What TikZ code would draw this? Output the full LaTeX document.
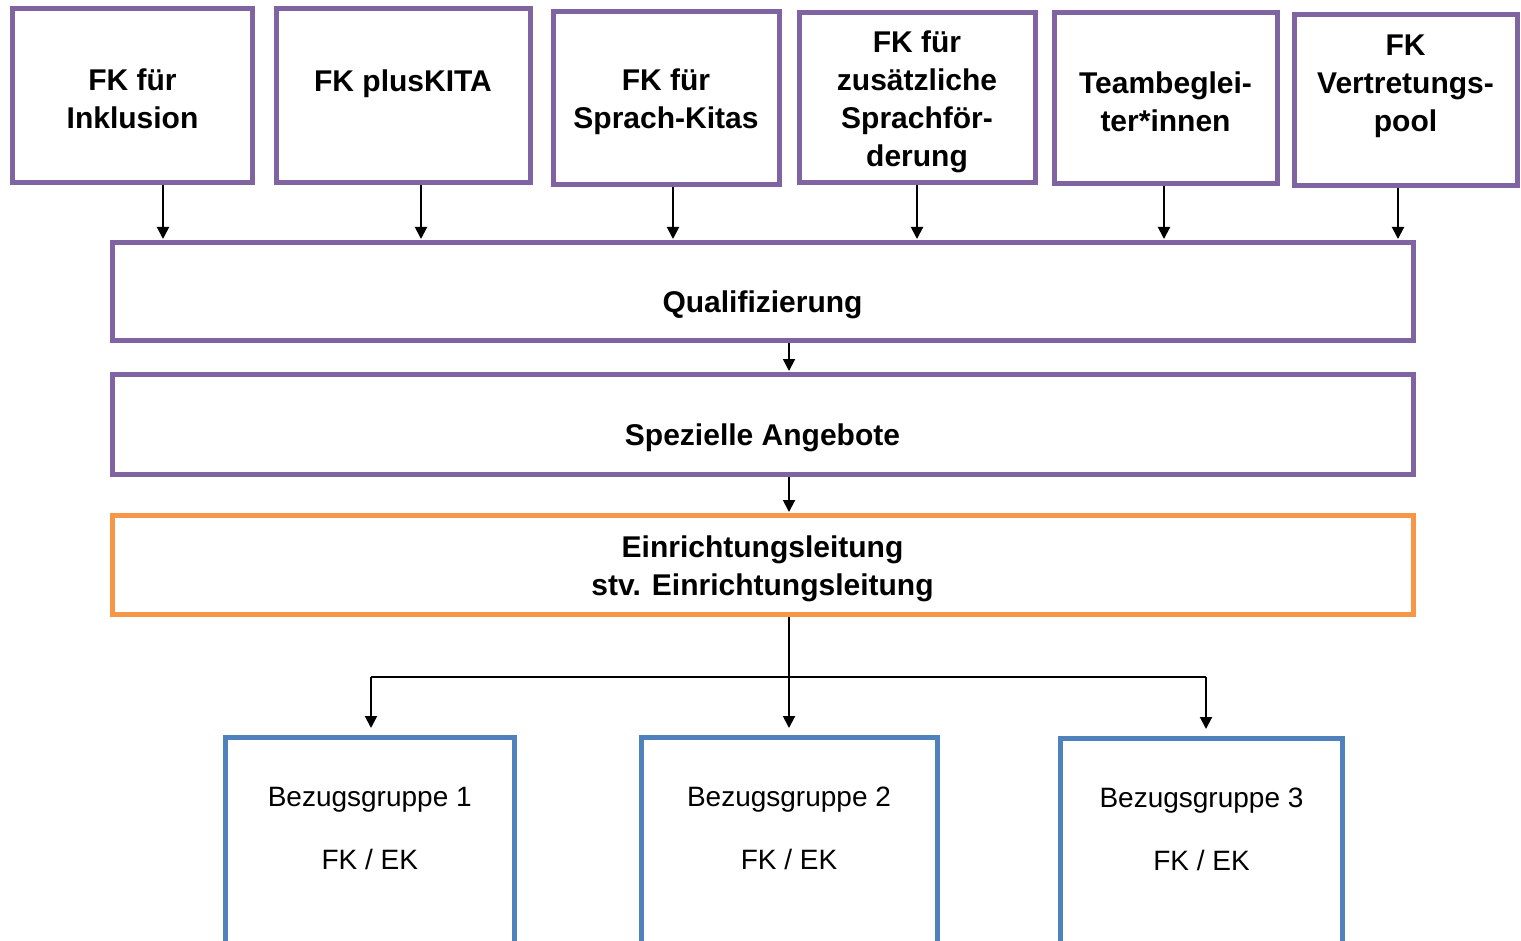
\documentclass[tikz,border=0pt]{standalone}
\usepackage{fontspec}
\setmainfont{Liberation Sans}
\usetikzlibrary{arrows.meta,fit}
\definecolor{kitapurple}{HTML}{8064A2}
\definecolor{kitaorange}{HTML}{F79646}
\definecolor{kitablue}{HTML}{4F81BD}
\tikzset{
  box/.style={draw=#1, line width=2.5pt, inner sep=0pt},
  lbl/.style={align=center, inner sep=0pt, font=\fontsize{15}{19}\selectfont\bfseries},
  grptxt/.style={align=center, inner sep=0pt, font=\fontsize{14}{31.5}\selectfont},
  arr/.style={-{Triangle[width=6pt,length=6pt]}, line width=1pt, shorten >=0.5pt},
  con/.style={line width=1pt}
}

\begin{document}
\begin{tikzpicture}[x=0.5pt,y=-0.5pt]
\newcommand{\ulft}{112}
\newcommand{\urgt}{1413}
\newcommand{\tdown}{-6.75pt}
\newcommand{\tmulti}{-1.75pt}

\clip (0,0) rectangle (1521,941);

% Fachkraefte oben
\node[box=kitapurple, fit={(12.5,8.5) (252.5,182.5)}] (inkl) {};
\node[box=kitapurple, fit={(276,8.5) (530,183)}] (plus) {};
\node[box=kitapurple, fit={(553,12) (779,185)}] (sprach) {};
\node[box=kitapurple, fit={(799,13) (1035,183)}] (zusatz) {};
\node[box=kitapurple, fit={(1054,13) (1277,184)}] (team) {};
\node[box=kitapurple, fit={(1294,15) (1517,185.5)}] (vertr) {};
\node[lbl] (inkltxt) at ([yshift=\tmulti]inkl.center) {FK für\\Inklusion};
\node[lbl] (plustxt) at ([yshift=\tmulti]plus.center) {FK plusKITA\\\mbox{}};
\node[lbl] (sprachtxt) at ([yshift=\tmulti]sprach.center) {FK für\\Sprach-Kitas};
\node[lbl] (zusatztxt) at ([yshift=\tmulti]zusatz.center) {FK für\\zusätzliche\\Sprachför-\\derung};
\node[lbl] (teamtxt) at ([yshift=\tmulti]team.center) {Teambeglei-\\ter*innen};
\node[lbl] (vertrtxt) at ([yshift=\tmulti+1pt]vertr.center) {FK\\Vertretungs-\\pool\\\mbox{}};

% Baender
\node[box=kitapurple, fit={(\ulft,242.5) (\urgt,340.5)}] (qual) {};
\node[box=kitapurple, fit={(\ulft,374.5) (\urgt,474)}] (spez) {};
\node[box=kitaorange, fit={(\ulft,515.5) (\urgt,614.5)}] (leitung) {};
\node[lbl] (qualtxt) at ([yshift=\tdown]qual.center) {Qualifizierung};
\node[lbl] (speztxt) at ([yshift=\tdown]spez.center) {Spezielle Angebote};
\node[lbl] (leitungtxt) at ([yshift=\tmulti]leitung.center) {Einrichtungsleitung\\stv. Einrichtungsleitung};

% Bezugsgruppen
\node[box=kitablue, fit={(225,737.5) (514.5,990)}] (grp1) {};
\node[box=kitablue, fit={(641,737.5) (937,990)}] (grp2) {};
\node[box=kitablue, fit={(1060.5,738.5) (1342.5,990)}] (grp3) {};
\foreach \g/\i in {grp1/1,grp2/2,grp3/3}
  \node[grptxt] (\g txt) at ([yshift=-46.5pt]\g.north) {Bezugsgruppe \i\\FK / EK};

% Pfeile
\foreach \b/\x in {inkl/163,plus/421,sprach/673,zusatz/917,team/1164,vertr/1398}{
  \path (\x,0) coordinate (ax);
  \draw[arr] (ax |- \b.south) -- (ax |- qual.north);
}
\draw[arr] (qual.south -| grp2.north) -- (spez.north -| grp2.north);
\draw[arr] (spez.south -| grp2.north) -- (leitung.north -| grp2.north);

\coordinate (links) at (371,677);
\coordinate (rechts) at (1206,677);
\draw[con] (links) -- (rechts);
\draw[arr, shorten >=3.5pt] (leitung.south -| grp2.north) -- (grp2.north);
\draw[arr, shorten >=3.5pt] (links) -- (links |- grp1.north);
\draw[arr, shorten >=3.5pt] (rechts) -- (rechts |- grp3.north);
\end{tikzpicture}
\end{document}
